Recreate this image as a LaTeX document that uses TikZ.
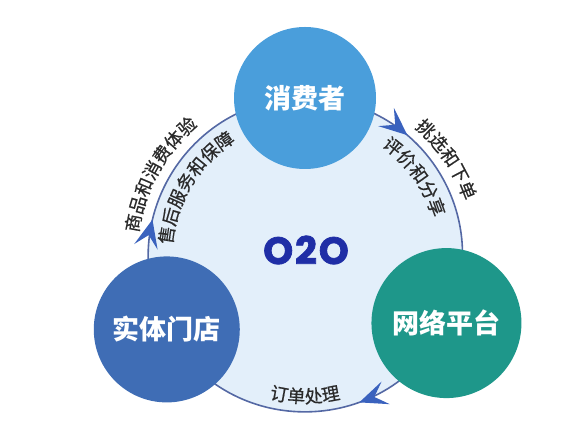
\documentclass[tikz,border=0pt]{standalone}
\usepackage{fontspec}
\setmainfont{Noto Sans CJK SC}
\newfontfamily\cjk{Noto Sans CJK SC}
\newfontfamily\cjklabel[FakeBold=0.6]{Noto Sans CJK SC}
\newfontfamily\otwo[FakeBold=2]{Poppins}
\usepackage{tikz}
\usetikzlibrary{arrows.meta}
\usetikzlibrary{backgrounds}
\usetikzlibrary{decorations.markings}
\usetikzlibrary{decorations.text}

\definecolor{consblue}{HTML}{4A9EDB}
\definecolor{shopblue}{HTML}{3F6DB5}
\definecolor{platgreen}{HTML}{1E978A}
\definecolor{ringfill}{HTML}{E3EFFA}
\definecolor{ringgray}{HTML}{5468A4}
\definecolor{tipblue}{HTML}{3A62BE}
\definecolor{otwoblue}{HTML}{1F2EA6}
\definecolor{labelgray}{HTML}{2A2A2A}

\tikzset{
    party/.style = {circle, inner sep=0pt, text=white,
                    font=\cjk\bfseries\fontsize{27}{27}\selectfont},
    ringline/.style = {draw=ringgray, line width=1.6pt, postaction={decorate},
                    decoration={markings, mark=at position 0.35 with
                    {\arrow{Stealth[length=28pt, width=24pt, inset=12pt, color=tipblue]}}}},
    arclabel/.style = {decorate, decoration={text along path, text align=center,
                    text color=labelgray, text={|\cjklabel\fontsize{18}{18}\selectfont|#1}}}
}

\begin{document}
\begin{tikzpicture}[x=1pt,y=1pt]

            % page frame, same size as the reference
            \useasboundingbox (0,0) rectangle (581,422);
            \coordinate (o) at (305,167);

            \path   (o) ++(90:157)    node (cons) [party, fill = consblue, minimum size=142pt] {消费者}
                    (o) ++(-25.7:157) node (plat) [party, fill = platgreen, minimum size=150pt] {网络平台}
                    (o) ++(208.3:157) node (shop) [party, fill = shopblue, minimum size=146pt] {实体门店};

            \node (mid) [font=\otwo\bfseries\fontsize{38}{38}\selectfont, text = otwoblue] at (306,172)
            {O\kern2pt 2\kern2pt O};

            % ring and its three arrows behind the circles
            \begin{scope}[on background layer]
            \fill[ringfill] (o) circle [radius=157];
            \draw[ringline] (node cs: name =cons, anchor =center) to [bend left=58, looseness=1.12] (node cs: name =plat, anchor =center);
            \draw[ringline] (node cs: name =plat, anchor =center) to [bend left=63, looseness=1.17] (node cs: name =shop, anchor =center);
            \draw[ringline] (node cs: name =shop, anchor =center) to [bend left=59, looseness=1.12] (node cs: name =cons, anchor =center);
            \end{scope}

            \path[arclabel = 商品和消费体验] (o) ++(180:168) arc [start angle=180, end angle=122, radius=168];
            \path[arclabel = 售后服务和保障] (o) ++(185:133) arc [start angle=185, end angle=112, radius=133];
            \path[arclabel = 挑选和下单] (o) ++(60:168) arc [start angle=60, end angle=8, radius=168];
            \path[arclabel = 评价和分享] (o) ++(62:133) arc [start angle=62, end angle=9, radius=133];
            \path[arclabel = 订单处理] (o) ++(240:148) arc [start angle=240, end angle=300, radius=148];

\end{tikzpicture}
\end{document}
